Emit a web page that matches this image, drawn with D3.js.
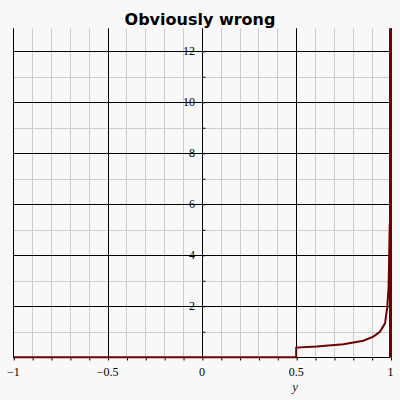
<!DOCTYPE html>
<html>
<head>
<meta charset="utf-8">
<script src="https://cdn.jsdelivr.net/npm/d3@7/dist/d3.min.js"></script>
<style>
  body { margin: 0; background: #f8f8f8; }
  svg { display: block; }
</style>
</head>
<body>
<svg id="chart" width="400" height="400"></svg>
<script>
// values
const xMajorTicks = [-1, -0.5, 0, 0.5, 1];
const xTickLabels = ["\u22121", "\u22120.5", "0", "0.5", "1"];
const yMajorTicks = [2, 4, 6, 8, 10, 12];
const yTickLabels = ["2", "4", "6", "8", "10", "12"];
const curveX = [-1, 0.5, 0.5, 0.608, 0.75, 0.856, 0.909, 0.944, 0.971, 0.983, 0.99, 0.996];
const curveY = [0, 0, 0.38, 0.42, 0.51, 0.65, 0.81, 1.0, 1.33, 1.98, 2.77, 5.25];
const wallX = [1, 1];
const wallY = [0, 12.9];

const svg = d3.select("#chart");
const x = d3.scaleLinear().domain([-1, 1]).range([13.3, 390.5]);
const y = d3.scaleLinear().domain([0, 12.9]).range([357.3, 28.3]);

const crisp = v => Math.round(v) + 0.5;

// minor grid
const g = svg.append("g");
g.selectAll(".vminor").data(d3.range(-10, 11).map(i => i / 10))
  .join("line")
  .attr("x1", d => crisp(x(d))).attr("x2", d => crisp(x(d)))
  .attr("y1", y(0)).attr("y2", y(12.9))
  .attr("stroke", "#cccccc");
g.selectAll(".hminor").data(d3.range(1, 13))
  .join("line")
  .attr("y1", d => crisp(y(d))).attr("y2", d => crisp(y(d)))
  .attr("x1", x(-1)).attr("x2", x(1))
  .attr("stroke", "#cccccc");

// major grid
g.selectAll(".vmajor").data(xMajorTicks)
  .join("line")
  .attr("x1", d => crisp(x(d))).attr("x2", d => crisp(x(d)))
  .attr("y1", y(0)).attr("y2", y(12.9))
  .attr("stroke", "#000");
g.selectAll(".hmajor").data(yMajorTicks)
  .join("line")
  .attr("y1", d => crisp(y(d))).attr("y2", d => crisp(y(d)))
  .attr("x1", x(-1)).attr("x2", x(1))
  .attr("stroke", "#000");

// x axis at the bottom
const xAxis = d3.axisBottom(x)
  .tickValues(d3.range(-10, 11).map(i => i / 10))
  .tickSize(3).tickFormat("");
svg.append("g").attr("transform", `translate(0,${crisp(y(0))})`).call(xAxis)
  .call(a => a.select(".domain").remove())
  .call(a => a.selectAll("line").attr("stroke", "#000")
    .attr("transform", function () { return "translate(0.5,0)"; }));
svg.append("line")
  .attr("x1", x(-1)).attr("x2", x(1))
  .attr("y1", crisp(y(0))).attr("y2", crisp(y(0)))
  .attr("stroke", "#000");

// y axis through x = 0, small ticks to the right
const yAxis = d3.axisRight(y).tickValues(d3.range(1, 13)).tickSize(3).tickFormat("");
svg.append("g").attr("transform", `translate(${crisp(x(0))},0)`).call(yAxis)
  .call(a => a.select(".domain").remove())
  .call(a => a.selectAll("line").attr("stroke", "#000"));

// tick labels
svg.selectAll(".xlab").data(xMajorTicks)
  .join("text")
  .attr("x", d => x(d)).attr("y", 375.5)
  .attr("text-anchor", "middle")
  .attr("font-family", "Liberation Serif, Times New Roman, serif")
  .attr("font-size", 12).attr("fill", "#000")
  .text((d, i) => xTickLabels[i]);
svg.selectAll(".ylab").data(yMajorTicks)
  .join("text")
  .attr("x", x(0) - 7).attr("y", d => y(d))
  .attr("dy", "0.35em")
  .attr("text-anchor", "end")
  .attr("font-family", "Liberation Serif, Times New Roman, serif")
  .attr("font-size", 12).attr("fill", "#000")
  .text((d, i) => yTickLabels[i]);

svg.append("text")
  .attr("x", x(0.495)).attr("y", 391)
  .attr("text-anchor", "middle")
  .attr("font-family", "Liberation Serif, Times New Roman, serif")
  .attr("font-style", "italic")
  .attr("font-size", 13).attr("fill", "#222")
  .text("y");

// curve
const line = d3.line().x(d => x(d[0])).y(d => y(d[1]));
svg.append("path")
  .datum(d3.zip(curveX, curveY))
  .attr("d", line)
  .attr("fill", "none").attr("stroke", "#6e0000").attr("stroke-width", 2);
svg.append("path")
  .datum(d3.zip(wallX, wallY))
  .attr("d", line)
  .attr("fill", "none").attr("stroke", "#6e0000").attr("stroke-width", 3);

// title
svg.append("text")
  .attr("x", 200).attr("y", 24.5)
  .attr("text-anchor", "middle")
  .attr("font-family", "DejaVu Sans, sans-serif")
  .attr("font-weight", "bold")
  .attr("font-size", 16).attr("fill", "#000")
  .text("Obviously wrong");
</script>
</body>
</html>
